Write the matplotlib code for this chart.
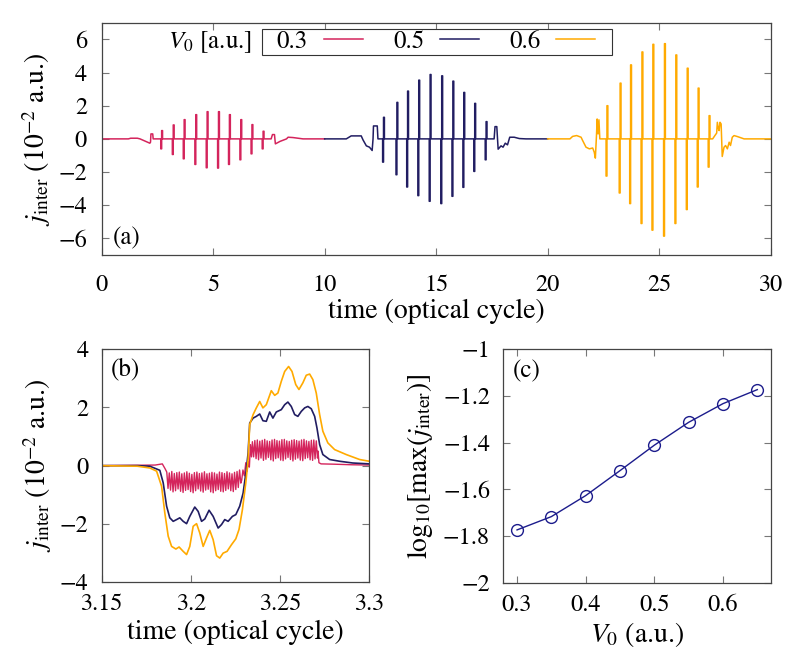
import numpy as np
import matplotlib
matplotlib.use("Agg")
import matplotlib.pyplot as plt
from matplotlib.patches import Rectangle

plt.rcParams['font.family'] = ['STIXGeneral', 'Liberation Serif', 'DejaVu Serif']
plt.rcParams['mathtext.fontset'] = 'stix'
plt.rcParams['font.size'] = 18

RED = '#d4245c'
NAVY = '#211d62'
YEL = '#ffaa00'
CBLUE = '#1c1c8c'

TICK_FS = 17.5
LABEL_FS = 20

# ---- panel (a): full current trace for three V0 values ----
v0_labels = ['0.3', '0.5', '0.6']

red_bg_t = [0.0, 1.2, 1.3, 1.6, 1.72, 2.16, 2.19, 2.21, 2.29, 2.31, 2.4, 7.6, 7.66, 7.75, 7.79, 8.0, 8.29, 8.36, 8.58, 9.03, 10.0]
red_bg_v = [0.0, 0.0, 0.04, 0.04, 0.0, -0.26, -0.2, 0.3, 0.3, 0.0, 0.0, 0.0, 0.26, 0.26, -0.3, -0.15, 0.0, 0.1, 0.08, 0.0, 0.0]
red_sp_t = [2.69, 3.21, 3.70, 4.22, 4.73, 5.24, 5.73, 6.24, 6.74, 7.24]
red_sp_up = [0.50, 0.84, 1.16, 1.46, 1.64, 1.64, 1.46, 1.16, 0.86, 0.46]
red_sp_dn = [-0.60, -0.94, -1.20, -1.54, -1.74, -1.76, -1.54, -1.26, -0.90, -0.60]

blue_bg_t = [10.0, 10.97, 11.19, 11.64, 11.72, 11.87, 12.01, 12.13, 12.17, 12.19, 12.36, 12.39, 12.45,
             17.5, 17.6, 17.64, 17.72, 17.78, 17.91, 18.0, 18.1, 18.2, 18.3, 18.5, 18.73, 19.03, 20.0]
blue_bg_v = [0.0, 0.0, 0.18, 0.18, -0.06, -0.42, -0.5, -0.7, 0.0, 0.78, 0.78, 0.0, 0.0,
             0.0, 0.0, 0.74, 0.74, -0.62, -0.42, -0.5, -0.26, -0.36, 0.1, 0.1, 0.02, 0.0, 0.0]
blue_sp_t = [12.64, 13.24, 13.72, 14.22, 14.73, 15.25, 15.75, 16.24, 16.73, 17.24]
blue_sp_up = [1.30, 2.20, 2.88, 3.54, 3.88, 3.80, 3.48, 2.80, 2.14, 1.04]
blue_sp_dn = [-1.40, -2.16, -2.90, -3.42, -3.76, -3.90, -3.46, -2.92, -1.96, -1.26]

yel_bg_t = [20.0, 21.0, 21.12, 21.3, 21.5, 21.57, 21.72, 21.87, 22.02, 22.09, 22.14, 22.19, 22.22, 22.26, 22.3, 22.34, 22.4,
            27.4, 27.5, 27.58, 27.61, 27.66, 27.69, 27.73, 27.78, 27.83, 27.91, 27.98, 28.06, 28.14, 28.2, 28.28, 28.36, 28.51, 28.81, 30.0]
yel_bg_v = [0.0, 0.0, 0.15, 0.2, 0.1, -0.1, -0.5, -0.6, -0.55, -0.8, -1.16, 0.2, 1.2, 0.3, 1.15, 0.0, 0.0,
            0.0, 0.2, 0.35, 1.0, 0.6, 0.5, 1.0, 0.9, -1.06, -0.5, -0.4, -0.6, -0.2, -0.4, 0.1, 0.2, 0.14, 0.0, 0.0]
yel_sp_t = [22.66, 23.25, 23.72, 24.23, 24.72, 25.24, 25.75, 26.26, 26.75, 27.24]
yel_sp_up = [2.00, 3.36, 4.46, 5.24, 5.70, 5.74, 5.06, 4.26, 3.06, 1.40]
yel_sp_dn = [-2.24, -3.26, -3.90, -5.10, -5.50, -5.86, -5.10, -4.26, -2.90, -1.70]

# ---- panel (b): zoom on one half cycle ----
red_b_t = [3.15, 3.18, 3.184, 3.1855]
red_b_v = [0.0, 0.02, 0.06, -0.1]
red_neg_top = [-0.22, -0.25, -0.20, -0.27, -0.24, -0.22, -0.28, -0.25, -0.21, -0.26, -0.30, -0.24, -0.22, -0.27, -0.25,
               -0.21, -0.28, -0.26, -0.23, -0.25, -0.29, -0.22, -0.24, -0.27, -0.21, -0.25, -0.28, -0.23, -0.20, -0.15]
red_neg_bot = [-0.78, -0.84, -0.90, -0.86, -0.80, -0.88, -0.92, -0.85, -0.82, -0.89, -0.93, -0.86, -0.80, -0.87, -0.91,
               -0.84, -0.81, -0.90, -0.93, -0.86, -0.82, -0.88, -0.90, -0.85, -0.80, -0.86, -0.89, -0.82, -0.75, -0.60]
red_mid_t = [3.2285, 3.2292, 3.2300, 3.2308, 3.2315, 3.2322, 3.2328, 3.2334, 3.2340]
red_mid_v = [-0.5, -0.15, -0.35, 0.1, -0.2, 0.15, -0.05, 0.72, 0.3]
red_pos_top = [0.82, 0.86, 0.88, 0.84, 0.87, 0.90, 0.85, 0.83, 0.88, 0.90, 0.86, 0.84, 0.89, 0.90,
               0.85, 0.83, 0.87, 0.89, 0.86, 0.84, 0.88, 0.90, 0.85, 0.83, 0.87, 0.88, 0.85]
red_pos_bot = [0.30, 0.24, 0.20, 0.26, 0.18, 0.22, 0.28, 0.20, 0.16, 0.24, 0.27, 0.19, 0.17, 0.23,
               0.28, 0.21, 0.16, 0.22, 0.26, 0.19, 0.17, 0.24, 0.27, 0.20, 0.18, 0.23, 0.26]
red_tail_t = [3.2713, 3.2718, 3.273, 3.28, 3.29, 3.30]
red_tail_v = [0.5, 0.1, 0.06, 0.05, 0.03, 0.02]

blue_b_t = [3.15, 3.17, 3.177, 3.1826, 3.1845, 3.1864, 3.1882, 3.1901, 3.192, 3.1938, 3.1957, 3.1976, 3.1994, 3.2022,
            3.2041, 3.206, 3.2078, 3.2102, 3.2125, 3.2153, 3.2172, 3.219, 3.2209, 3.2233, 3.2252, 3.2274, 3.2293,
            3.2311, 3.2321, 3.233, 3.2349, 3.2367, 3.2386, 3.2404, 3.2423, 3.2442, 3.246, 3.2479, 3.2507, 3.2526,
            3.2544, 3.2563, 3.2582, 3.26, 3.2619, 3.2638, 3.2656, 3.2675, 3.2694, 3.2707, 3.2722, 3.274, 3.2778,
            3.2834, 3.2908, 3.30]
blue_b_v = [0.0, 0.0, -0.02, -0.16, -0.59, -1.39, -1.79, -1.91, -1.85, -1.79, -1.91, -1.99, -1.74, -1.42,
            -1.57, -1.91, -1.83, -1.53, -1.74, -2.14, -2.02, -1.85, -1.91, -1.74, -1.68, -1.39, -0.94,
            -0.14, 0.44, 1.46, 1.63, 1.69, 1.77, 1.54, 1.52, 1.84, 1.63, 1.84, 1.92, 2.09,
            2.18, 2.03, 1.75, 1.69, 1.86, 1.98, 2.03, 1.95, 1.69, 1.29, 0.72, 0.38, 0.21,
            0.15, 0.09, 0.06]

yel_b_t = [3.15, 3.17, 3.177, 3.1808, 3.1836, 3.1854, 3.1873, 3.1892, 3.1916, 3.1934, 3.1957, 3.1976, 3.1994, 3.2013,
           3.2032, 3.205, 3.2069, 3.2088, 3.2106, 3.2125, 3.2144, 3.2162, 3.2181, 3.2203, 3.2228, 3.2252, 3.227,
           3.2289, 3.2308, 3.2321, 3.233, 3.2349, 3.2367, 3.2386, 3.2404, 3.2423, 3.2451, 3.247, 3.2488, 3.2507,
           3.2526, 3.2548, 3.2567, 3.2588, 3.2606, 3.2628, 3.2647, 3.2666, 3.2684, 3.2703, 3.2722, 3.274, 3.2768,
           3.2806, 3.2871, 3.2946, 3.30]
yel_b_v = [0.0, -0.02, -0.08, -0.19, -0.71, -1.62, -2.42, -2.77, -2.86, -2.79, -2.94, -3.05, -2.77, -2.08,
           -1.99, -2.31, -2.77, -2.48, -2.22, -2.54, -3.09, -3.17, -3.0, -2.94, -2.71, -2.51, -2.19,
           -1.51, -0.59, 0.21, 1.41, 1.75, 1.98, 2.2, 1.98, 2.09, 2.57, 2.41, 2.49, 2.89,
           3.23, 3.4, 3.23, 2.78, 2.61, 2.84, 3.1, 3.14, 2.95, 2.49, 1.75, 1.18, 0.78,
           0.55, 0.38, 0.21, 0.15]

# ---- panel (c): peak current vs V0 ----
v0 = [0.30, 0.35, 0.40, 0.45, 0.50, 0.55, 0.60, 0.65]
log_jmax = [-1.774, -1.717, -1.627, -1.520, -1.411, -1.313, -1.233, -1.173]


def build_trace(bg_t, bg_v, sp_t, sp_up, sp_dn, w=0.04):
    pts = list(zip(bg_t, bg_v))
    for t, u, d in zip(sp_t, sp_up, sp_dn):
        pts += [(t - w, 0.0), (t - w, d), (t, d), (t, u), (t + w, u), (t + w, 0.0)]
    pts.sort(key=lambda p: p[0])
    arr = np.array(pts)
    return arr[:, 0], arr[:, 1]


def interleave(top, bot):
    out = []
    for a, b in zip(top, bot):
        out += [a, b]
    return out


def style_axes(ax, xpad, ypad):
    ax.tick_params(direction='in', top=True, right=True, length=5, width=0.8,
                   color='#777777', labelsize=TICK_FS)
    ax.tick_params(axis='x', pad=xpad)
    ax.tick_params(axis='y', pad=ypad)
    for s in ax.spines.values():
        s.set_color('#444444')
        s.set_linewidth(0.9)


fig = plt.figure(figsize=(7.98, 6.65), dpi=100)
ax_a = fig.add_axes([0.1274, 0.6165, 0.8383, 0.3493])
ax_b = fig.add_axes([0.1274, 0.1244, 0.3353, 0.3508])
ax_c = fig.add_axes([0.6307, 0.1238, 0.3355, 0.3510])

# (a)
traces = [
    (red_bg_t, red_bg_v, red_sp_t, red_sp_up, red_sp_dn, RED),
    (blue_bg_t, blue_bg_v, blue_sp_t, blue_sp_up, blue_sp_dn, NAVY),
    (yel_bg_t, yel_bg_v, yel_sp_t, yel_sp_up, yel_sp_dn, YEL),
]
handles = []
for (bt, bv, st, su, sd, col), lab in zip(traces, v0_labels):
    x, y = build_trace(bt, bv, st, su, sd)
    h, = ax_a.plot(x, y, color=col, lw=1.1, label=lab)
    handles.append(h)

ax_a.set_xlim(0, 30)
ax_a.set_ylim(-7, 7)
ax_a.set_xticks(range(0, 31, 5))
ax_a.set_yticks(range(-6, 7, 2))
style_axes(ax_a, 14, 10.5)
ax_a.set_xlabel('time (optical cycle)', fontsize=LABEL_FS, labelpad=2)
ax_a.set_ylabel(r'$j_{\rm inter}$ ($10^{-2}$ a.u.)', fontsize=LABEL_FS, labelpad=4)
ax_a.text(0.017, 0.02, '(a)', transform=ax_a.transAxes, ha='left', va='bottom', fontsize=18)

# legend box drawn separately so its padding matches the original
ax_a.add_patch(Rectangle((0.2401, 0.861), 0.5222, 0.1119, transform=ax_a.transAxes,
                         facecolor='white', edgecolor='#333333', lw=0.8, zorder=4))
leg = ax_a.legend(handles=handles, ncol=3, markerfirst=False, loc='center left',
                  bbox_to_anchor=(0.2616, 0.917), borderaxespad=0, frameon=False,
                  fontsize=18, handlelength=1.56, handletextpad=0.64, columnspacing=1.2,
                  borderpad=0)
leg.set_zorder(5)
ax_a.text(0.2247, 0.917, r'$V_0$ [a.u.]', transform=ax_a.transAxes, ha='right', va='center', fontsize=18)

# (b)
red_x = list(red_b_t) + list(np.linspace(3.1865, 3.2280, 2 * len(red_neg_top))) + red_mid_t \
    + list(np.linspace(3.2345, 3.2710, 2 * len(red_pos_top))) + red_tail_t
red_y = list(red_b_v) + interleave(red_neg_top, red_neg_bot) + red_mid_v \
    + interleave(red_pos_top, red_pos_bot) + red_tail_v
ax_b.plot(red_x, red_y, color=RED, lw=1.0)
ax_b.plot(blue_b_t, blue_b_v, color=NAVY, lw=1.2)
ax_b.plot(yel_b_t, yel_b_v, color=YEL, lw=1.2)
ax_b.set_xlim(3.15, 3.3)
ax_b.set_ylim(-4, 4)
ax_b.set_xticks([3.15, 3.2, 3.25, 3.3])
ax_b.set_xticklabels(['3.15', '3.2', '3.25', '3.3'])
ax_b.set_yticks([-4, -2, 0, 2, 4])
style_axes(ax_b, 8.5, 9.5)
ax_b.set_xlabel('time (optical cycle)', fontsize=LABEL_FS, labelpad=3)
ax_b.set_ylabel(r'$j_{\rm inter}$ ($10^{-2}$ a.u.)', fontsize=LABEL_FS, labelpad=4)
ax_b.text(0.034, 0.962, '(b)', transform=ax_b.transAxes, ha='left', va='top', fontsize=18)

# (c)
ax_c.plot(v0, log_jmax, color=CBLUE, lw=1.0, marker='o', mfc='none', mec=CBLUE, ms=8.5, mew=1.0)
ax_c.set_xlim(0.28, 0.67)
ax_c.set_ylim(-2, -1)
ax_c.set_xticks([0.3, 0.4, 0.5, 0.6])
ax_c.set_yticks([-2, -1.8, -1.6, -1.4, -1.2, -1])
ax_c.set_yticklabels(['\u22122', '\u22121.8', '\u22121.6', '\u22121.4', '\u22121.2', '\u22121'])
style_axes(ax_c, 8.5, 9.5)
ax_c.set_xlabel(r'$V_0$ (a.u.)', fontsize=LABEL_FS, labelpad=3)
ax_c.set_ylabel(r'log$_{10}$[max($j_{\rm inter}$)]', fontsize=LABEL_FS, labelpad=6)
ax_c.text(0.037, 0.955, '(c)', transform=ax_c.transAxes, ha='left', va='top', fontsize=18)

fig.savefig('out.png', dpi=100)
